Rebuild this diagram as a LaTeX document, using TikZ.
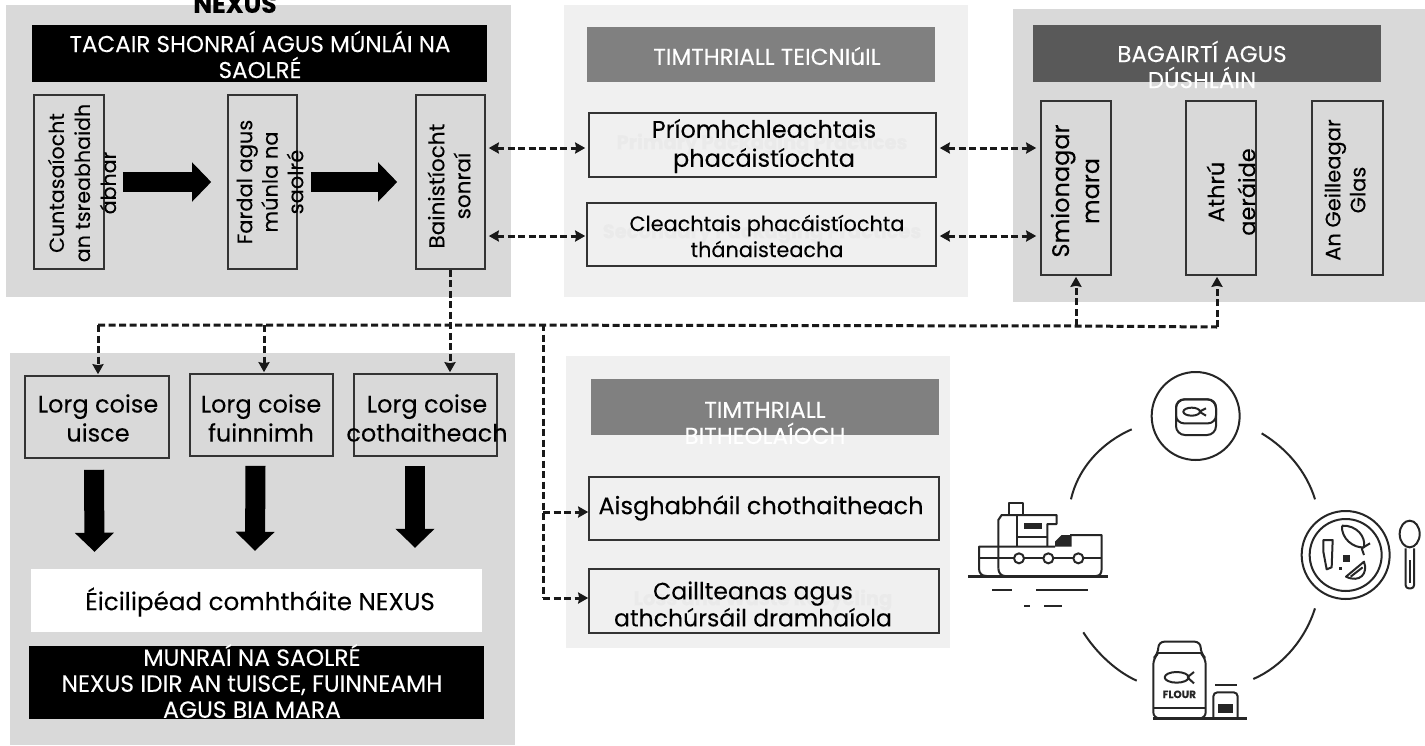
\documentclass[tikz,border=0pt]{standalone}
\usepackage{fontspec}
\setmainfont{Poppins}[FakeBold=0.12]
\usetikzlibrary{arrows.meta,calc}
\definecolor{panelA}{HTML}{D9D9D9}
\definecolor{panelB}{HTML}{F0F0F0}
\definecolor{headG}{HTML}{808080}
\definecolor{headD}{HTML}{595959}
\definecolor{ghost}{HTML}{EAEAEA}
\newcommand{\fs}[2]{\fontsize{#1}{#2}\selectfont}
\tikzset{
  x=1pt,y=-1pt,
  panel/.style={fill=#1,draw=none},
  hdr/.style={fill=#1,draw=none},
  boxA/.style={draw=black!80,line width=1.6pt,inner sep=0pt},
  txt/.style={inner sep=0pt,align=center,font=\fs{22}{26}},
  txtL/.style={inner sep=0pt,align=center,font=\fs{24}{29}},
  txtS/.style={inner sep=0pt,align=center,font=\fs{20.8}{26}},
  hd/.style={inner sep=0pt,align=center,text=white,font=\fs{23}{26}},
  ghosttxt/.style={inner sep=0pt,text=ghost,font=\fs{19.5}{24}\bfseries},
  dashline/.style={line width=3pt,dash pattern=on 7pt off 3.5pt,black!90},
  dasharrow/.style={dashline,-{Stealth[length=10pt,width=11pt,inset=1pt]}},
  dashboth/.style={dashline,{Stealth[length=10pt,width=11pt,inset=1pt]}-{Stealth[length=10pt,width=11pt,inset=1pt]}},
  blockh/.style={line width=20pt,-{Triangle[length=19pt,width=38pt]}},
  icon/.style={line width=2pt,black!85,line join=round},
}
\newcommand{\rectnode}[6][]{% style,name,x1,y1,x2,y2
  \node[#1,minimum width=#5pt-#3pt,minimum height=#6pt-#4pt,inner sep=0pt] (#2) at ({(#3+#5)/2},{(#4+#6)/2}) {};}
\begin{document}
\begin{tikzpicture}
\clip (0,0) rectangle (1425,745);
\fill[white] (0,0) rectangle (1425,745);
% panels
\rectnode[panel=panelA]{pTL}{6}{5}{511}{297}
\rectnode[panel=panelB]{pTM}{564}{5}{968}{297}
\rectnode[panel=panelA]{pTR}{1013}{9}{1425}{302}
\rectnode[panel=panelA]{pBL}{10}{353}{515}{745}
\rectnode[panel=panelB]{pBM}{566}{356}{950}{648}
% headers
\rectnode[hdr=black]{hTL}{32}{25}{487}{82}
\rectnode[hdr=headG]{hTM}{587}{27}{935}{82}
\rectnode[hdr=headD]{hTR}{1033}{25}{1381}{82}
\rectnode[hdr=headG]{hBM}{591}{379}{939}{435}
\node[inner sep=0pt,font=\fs{25}{28}\bfseries] (tNexus) at (235,4) {NEXUS};
\node[hd] (tTL) at (260,54.5) {TACAIR SHONRAÍ AGUS MÚNLÁI NA\\SAOLRÉ};
\node[hd] (tTM) at (767,56) {TIMTHRIALL TEICNIúIL};
\node[hd] (tTR) at (1202,64.5) {BAGAIRTÍ AGUS\\DÚSHLÁIN};
\node[hd] (tBM) at (765,423) {TIMTHRIALL\\BITHEOLAÍOCH};
% boxes top-left
\rectnode[boxA]{bA}{34}{95}{104}{269}
\rectnode[boxA]{bB}{228}{95}{297}{269}
\rectnode[boxA]{bC}{416}{95}{485}{269}
\node[txt,rotate=90,font=\fs{20.6}{26}] (tA) at (82,183) {Cuntasaíocht\\an tsreabhaidh\\ábhar};
\node[txt,rotate=90,font=\fs{21}{25.5}] (tB) at (270,182) {Fardal agus\\múnla na\\saolré};
\node[txt,rotate=90,font=\fs{21.5}{26}] (tC) at (449,186) {Bainistíocht\\sonraí};
\draw[blockh] ([xshift=18pt]bA.east) -- ([xshift=-16pt]bB.west);
\draw[blockh] ([xshift=13pt]bB.east) -- ([xshift=-18pt]bC.west);
% technical cycle
\node[ghosttxt] (g1) at (762,144) {Primary Packaging Practices};
\node[ghosttxt] (g2) at (762,233) {Secondary Packaging Practices};
\rectnode[boxA]{bP}{589}{113}{936}{177}
\rectnode[boxA]{bS}{587}{203}{936}{266}
\node[txtL] (tP) at (764,146) {Príomhchleachtais\\phacáistíochta};
\node[txtS] (tS) at (767,236) {Cleachtais phacáistíochta\\thánaisteacha};
% threats
\rectnode[boxA]{bT1}{1041}{101}{1111}{275}
\rectnode[boxA]{bT2}{1186}{101}{1256}{275}
\rectnode[boxA]{bT3}{1312}{101}{1383}{275}
\node[txt,rotate=90,font=\fs{24}{30}] (tT1) at (1075,191) {Smionagar\\mara};
\node[txt,rotate=90,font=\fs{22.5}{31}] (tT2) at (1231,192) {Athrú\\aeráide};
\node[txt,rotate=90,font=\fs{21}{25}] (tT3) at (1345,190) {An Geilleagar\\Glas};
% footprints
\rectnode[boxA]{bL1}{25}{376}{169}{458}
\rectnode[boxA]{bL2}{190}{374}{333}{456}
\rectnode[boxA]{bL3}{354}{374}{497}{456}
\node[txtL] (tL1) at (98,418) {Lorg coise\\uisce};
\node[txtL] (tL2) at (261,418) {Lorg coise\\fuinnimh};
\node[txtL] (tL3) at (427,418) {Lorg coise\\cothaitheach};
\rectnode[fill=white]{bW}{31}{569}{482}{632}
\rectnode[fill=black]{bK}{29}{646}{484}{719}
\node[txt,font=\fs{24.6}{28}] (tW) at (260,602) {Éicilipéad comhtháite NEXUS};
\node[hd,font=\fs{23.4}{26}] (tK) at (252,681) {MUNRAÍ NA SAOLRÉ\\NEXUS IDIR AN tUISCE, FUINNEAMH\\AGUS BIA MARA};
\draw[blockh] ([xshift=-3pt,yshift=-11pt]bL1.south) -- ([xshift=-162pt,yshift=17pt]bW.north);
\draw[blockh] ([xshift=-6pt,yshift=-9pt]bL2.south) -- ([xshift=-1.5pt,yshift=18pt]bW.north);
\draw[blockh] ([xshift=-10.5pt,yshift=-9pt]bL3.south) -- ([xshift=158.5pt,yshift=21pt]bW.north);
% biological cycle
\rectnode[boxA]{bR}{589}{477}{939}{540}
\rectnode[boxA]{bD}{589}{569}{939}{633}
\node[ghosttxt] (g3) at (763,600) {Loss and Waste Recycling};
\node[txtL,font=\fs{24}{29}] (tR) at (761,508) {Aisghabháil chothaitheach};
\node[txtL,font=\fs{23.6}{27}] (tD) at (753,604) {Caillteanas agus\\athchúrsáil dramhaíola};
% connectors
\coordinate (y1) at (0,148);
\coordinate (y2) at (0,236);
\coordinate (jL) at (450,325);
\coordinate (jM) at (543,324);
\coordinate (jR1) at (1076,326);
\coordinate (jR2) at (1217,327);
\coordinate (jA) at (98,325);
\coordinate (jB) at (264,325);
\draw[dashboth] ([xshift=3pt]bC.east|-y1) -- ([xshift=-3pt]bP.west|-y1);
\draw[dashboth] ([xshift=3pt]bC.east|-y2) -- ([xshift=-1pt]bS.west|-y2);
\draw[dashboth] ([xshift=3pt]bP.east|-y1) -- ([xshift=-4pt]bT1.west|-y1);
\draw[dashboth] ([xshift=3pt]bS.east|-y2) -- ([xshift=-4pt]bT1.west|-y2);
\draw[dasharrow] (bC.south-|jL) -- ([yshift=1pt]bL3.north-|jL);
\draw[dashline] (jA) -- (jL) -- (jR1) -- (jR2);
\draw[dasharrow] (jA) -- ([yshift=1pt]bL1.north-|jA);
\draw[dasharrow] (jB) -- ([yshift=1pt]bL2.north-|jB);
\draw[dasharrow] (jR1) -- ([yshift=-1pt]bT1.south-|jR1);
\draw[dasharrow] (jR2) -- ([yshift=-1pt]bT2.south-|jR2);
\coordinate (y3) at (0,512);
\coordinate (y4) at (0,598);
\draw[dashline] (jM) -- (jM|-y4);
\draw[dasharrow] (jM|-y3) -- (bR.west|-y3);
\draw[dasharrow] (jM|-y4) -- (bD.west|-y4);
% icon graphics
\begin{scope}[shift={(960,360)},x=0.33333pt,y=-0.33333pt,icon]
 % ring arcs
 \draw (515,208) .. controls (430,245) and (355,320) .. (333,418);
 \draw (905,220) .. controls (980,265) and (1040,335) .. (1065,418);
 \draw (1065,745) .. controls (1035,840) and (965,920) .. (880,957);
 \draw (530,962) .. controls (470,935) and (410,880) .. (370,817);
 % can
 \draw (707,168) circle[radius=132];
 \draw[rounded corners=9pt] (648,118) rectangle (768,225);
 \draw[rounded corners=8pt] (648,118) rectangle (768,190);
 \draw (695,155) ellipse[x radius=25,y radius=12];
 \draw (718,155) -- (738,145) (718,155) -- (738,167);
 % ship
 \draw[line width=3pt] (25,648) -- (445,648);
 \draw[line width=2.6pt] (97,690) -- (157,690) (228,690) -- (385,690) (193,738) -- (210,738) (253,738) -- (307,738);
 \draw (147,465) -- (147,430) -- (190,430) -- (190,465);
 \draw (115,625) -- (115,480) -- (125,465) -- (290,465) -- (290,492) -- (262,492) -- (262,558);
 \draw (170,465) -- (170,558);
 \fill (192,488) rectangle (245,508);
 \draw (170,530) -- (262,530);
 \draw (285,560) -- (57,560) -- (57,625) .. controls (57,640) and (65,648) .. (80,648);
 \draw (115,625) .. controls (115,640) and (125,648) .. (135,648);
 \draw (330,525) -- (425,525) -- (425,625) .. controls (425,640) and (420,648) .. (408,648);
 \fill (285,560) -- (285,545) -- (305,525) -- (335,525) -- (335,560) -- cycle;
 \draw (57,595) -- (425,595);
 \foreach \cx in {177,265,355}{\filldraw[fill=white] (\cx,595) circle[radius=15];}
 % plate
 \draw (1157,585) circle[radius=132];
 \draw (1157,585) circle[radius=108];
 \draw (1146,497) .. controls (1190,495) and (1218,530) .. (1212,562) .. controls (1180,565) and (1143,535) .. (1146,497);
 \draw (1230,550) -- (1205,565) -- (1212,585);
 \draw (1090,540) -- (1118,540) -- (1115,622) -- (1100,628) -- (1090,575) -- cycle;
 \fill (1150,585) rectangle (1170,605);
 \fill (1137,620) rectangle (1147,630);
 \draw (1158,650) .. controls (1200,670) and (1225,640) .. (1212,605) -- cycle;
 \draw (1172,650) -- (1208,622);
 % spoon
 \draw (1349,522) ellipse[x radius=30,y radius=40];
 \draw[rounded corners=3pt] (1337,565) -- (1337,685) -- (1362,685) -- (1362,565);
 \draw (1349,600) -- (1349,670);
 % flour bag
 \draw[rounded corners=6pt] (580,1075) -- (580,895) -- (595,880) -- (595,845) -- (722,845) -- (722,880) -- (737,895) -- (737,1075) -- cycle;
 \draw (595,880) -- (722,880);
 \draw (580,1045) -- (737,1045);
 \draw (650,952) ellipse[x radius=36,y radius=16];
 \draw (682,952) -- (702,936) (682,952) -- (702,970);
 \node[inner sep=0pt,font=\fs{10.5}{11}\bfseries] (tFlour) at (658,1003) {FLOUR};
 \draw (765,975) -- (830,975);
 \draw[rounded corners=4pt] (760,1075) -- (760,997) -- (833,997) -- (833,1075);
 \fill (775,1032) rectangle (818,1060);
 \draw[line width=3pt] (580,1075) -- (860,1075);
\end{scope}
\end{tikzpicture}
\end{document}
